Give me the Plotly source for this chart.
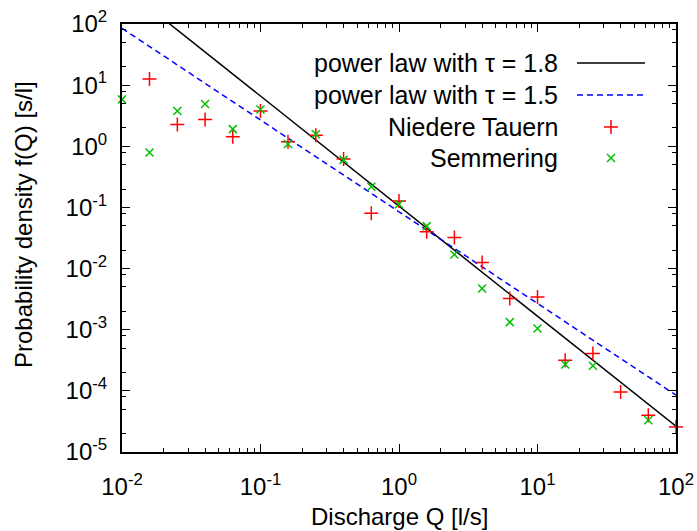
import plotly.graph_objects as go

# ---------------- data ----------------
nt_q = [0.0158, 0.0251, 0.0398, 0.0631, 0.1, 0.158, 0.251, 0.398, 0.631, 1.0,
        1.585, 2.512, 3.981, 6.31, 10.0, 15.85, 25.12, 39.81, 63.1, 100.0]
nt_f = [12.6, 2.28, 2.75, 1.43, 3.77, 1.19, 1.52, 0.617, 0.080, 0.127,
        0.040, 0.0323, 0.0126, 0.00324, 0.00344, 3.16e-4, 4.07e-4, 9.6e-5, 3.98e-5, 2.57e-5]

sm_q = [0.01, 0.0158, 0.0251, 0.0398, 0.0631, 0.1, 0.158, 0.251, 0.398, 0.631, 1.0,
        1.585, 2.512, 3.981, 6.31, 10.0, 15.85, 25.12, 63.1]
sm_f = [5.85, 0.79, 3.77, 4.9, 1.91, 4.0, 1.09, 1.57, 0.6, 0.218, 0.113,
        0.0494, 0.017, 0.00472, 0.00133, 0.00105, 2.69e-4, 2.57e-4, 3.3e-5]

tau_a, c_a = 1.8, 0.105
tau_b, c_b = 1.5, 0.085
line_q = [0.01, 100.0]

x_tickvals = [0.01, 0.1, 1, 10, 100]
x_ticktext = ["10<sup>-2</sup>", "10<sup>-1</sup>", "10<sup>0</sup>", "10<sup>1</sup>", "10<sup>2</sup>"]
y_tickvals = [1e-5, 1e-4, 1e-3, 1e-2, 1e-1, 1, 10, 100]
y_ticktext = ["10<sup>-5</sup>", "10<sup>-4</sup>", "10<sup>-3</sup>", "10<sup>-2</sup>",
              "10<sup>-1</sup>", "10<sup>0</sup>", "10<sup>1</sup>", "10<sup>2</sup>"]

legend_labels = ["power law with \u03c4 = 1.8", "power law with \u03c4 = 1.5",
                 "Niedere Tauern", "Semmering"]
x_title = "Discharge Q [l/s]"
y_title = "Probability density f(Q) [s/l]"

# ---------------- style ----------------
FONT = "Liberation Sans, Arial, sans-serif"
FS = 24
W, H = 697, 531
L, R, T, B = 122, 676, 24, 452
RED, GREEN, BLUE = "#ff0000", "#00c000", "#0000ff"


def px_x(p):
    return (p - L) / (R - L)


def px_y(p):
    return (B - p) / (B - T)


x_minor = [m * 10.0 ** k for k in range(-2, 2) for m in range(2, 10)]
y_minor = [m * 10.0 ** k for k in range(-5, 2) for m in (2, 5, 8)]

fig = go.Figure()

fig.add_trace(go.Scatter(x=line_q, y=[c_a * q ** (-tau_a) for q in line_q], mode="lines",
                         line=dict(color="black", width=1.5), showlegend=False))
fig.add_trace(go.Scatter(x=line_q, y=[c_b * q ** (-tau_b) for q in line_q], mode="lines",
                         line=dict(color=BLUE, width=1.5, dash="6px,4px"), showlegend=False))
fig.add_trace(go.Scatter(x=nt_q, y=nt_f, mode="markers", cliponaxis=False,
                         marker=dict(symbol="cross-thin", size=10, line=dict(color=RED, width=1.5)),
                         showlegend=False))
fig.add_trace(go.Scatter(x=sm_q, y=sm_f, mode="markers", cliponaxis=False,
                         marker=dict(symbol="x-thin", size=8, line=dict(color=GREEN, width=1.5)),
                         showlegend=False))

# ---- gnuplot-style key (samples on an overlay pixel axis) ----
key_y = [63, 95, 127, 158]
key_text_x = 560
key_line_x = [577, 645]
key_mark_x = 611
fig.add_trace(go.Scatter(x=key_line_x, y=[key_y[0]] * 2, xaxis="x2", yaxis="y2", mode="lines",
                         line=dict(color="black", width=1.5), showlegend=False))
fig.add_trace(go.Scatter(x=key_line_x, y=[key_y[1]] * 2, xaxis="x2", yaxis="y2", mode="lines",
                         line=dict(color=BLUE, width=1.5, dash="6px,4px"), showlegend=False))
fig.add_trace(go.Scatter(x=[key_mark_x], y=[key_y[2]], xaxis="x2", yaxis="y2", mode="markers",
                         marker=dict(symbol="cross-thin", size=10, line=dict(color=RED, width=1.5)),
                         showlegend=False))
fig.add_trace(go.Scatter(x=[key_mark_x], y=[key_y[3]], xaxis="x2", yaxis="y2", mode="markers",
                         marker=dict(symbol="x-thin", size=8, line=dict(color=GREEN, width=1.5)),
                         showlegend=False))

annotations = []
for lab, ky in zip(legend_labels, key_y):
    annotations.append(dict(text=lab, x=px_x(key_text_x), y=px_y(ky), xref="paper", yref="paper",
                            xanchor="right", yanchor="middle", showarrow=False,
                            font=dict(family=FONT, size=25, color="black")))
annotations.append(dict(text=x_title, x=px_x((L + R) / 2), y=px_y(516), xref="paper", yref="paper",
                        xanchor="center", yanchor="middle", showarrow=False,
                        font=dict(family=FONT, size=FS, color="black")))
annotations.append(dict(text=y_title, x=px_x(23), y=px_y(224), xref="paper", yref="paper",
                        xanchor="center", yanchor="middle", textangle=-90, showarrow=False,
                        font=dict(family=FONT, size=FS, color="black")))

axis_common = dict(showgrid=False, zeroline=False, showline=True, linecolor="black", linewidth=2,
                   mirror="allticks", ticks="inside", ticklen=8, tickwidth=1, tickcolor="black",
                   tickfont=dict(family=FONT, size=FS, color="black"), tickmode="array",
                   automargin=False)

fig.update_layout(
    width=W, height=H, autosize=False,
    margin=dict(l=L, r=W - R, t=T, b=H - B, pad=0),
    paper_bgcolor="white", plot_bgcolor="white",
    font=dict(family=FONT, size=FS, color="black"),
    xaxis=dict(type="log", range=[-2, 2], tickvals=x_tickvals, ticktext=x_ticktext,
               ticklabelstandoff=12,
               minor=dict(tickmode="array", tickvals=x_minor, ticks="inside", ticklen=4,
                          tickwidth=1, tickcolor="black", showgrid=False),
               **axis_common),
    yaxis=dict(type="log", range=[-5, 2], tickvals=y_tickvals, ticktext=y_ticktext,
               ticklabelstandoff=8,
               minor=dict(tickmode="array", tickvals=y_minor, ticks="inside", ticklen=4,
                          tickwidth=1, tickcolor="black", showgrid=False),
               **axis_common),
    xaxis2=dict(overlaying="x", range=[L, R], visible=False, fixedrange=True, automargin=False),
    yaxis2=dict(overlaying="y", range=[B, T], visible=False, fixedrange=True, automargin=False),
    annotations=annotations,
)

fig.write_html("out.html")
